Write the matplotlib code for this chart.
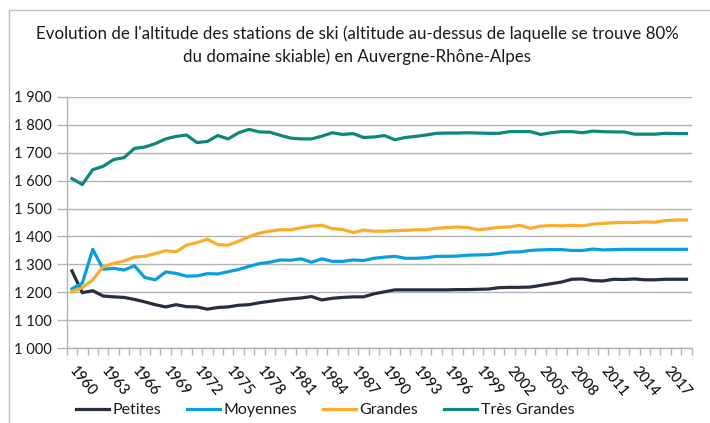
import matplotlib.pyplot as plt
from matplotlib.ticker import FixedLocator, FuncFormatter
from matplotlib.lines import Line2D
import matplotlib.transforms as mtransforms

# Altitude (m) au-dessus de laquelle se trouve 80% du domaine skiable
years = list(range(1960, 2020))

petites = [1277, 1199, 1206, 1187, 1184, 1182, 1175, 1166, 1156, 1148,
           1156, 1149, 1148, 1140, 1146, 1148, 1154, 1156, 1163, 1168,
           1173, 1177, 1180, 1185, 1173, 1179, 1182, 1184, 1184, 1195,
           1202, 1209, 1209, 1209, 1209, 1209, 1209, 1210, 1210, 1211,
           1212, 1217, 1218, 1218, 1219, 1225, 1231, 1237, 1247, 1248,
           1242, 1241, 1247, 1246, 1248, 1245, 1245, 1247, 1247, 1247]

moyennes = [1213, 1233, 1354, 1283, 1286, 1280, 1295, 1253, 1245, 1273,
            1268, 1258, 1259, 1267, 1266, 1274, 1282, 1293, 1303, 1308,
            1316, 1315, 1320, 1308, 1320, 1311, 1311, 1316, 1314, 1322,
            1326, 1329, 1322, 1322, 1324, 1329, 1329, 1330, 1333, 1334,
            1335, 1339, 1344, 1345, 1350, 1352, 1353, 1353, 1350, 1350,
            1355, 1352, 1353, 1354, 1354, 1354, 1354, 1354, 1354, 1354]

grandes = [1203, 1217, 1245, 1292, 1304, 1312, 1326, 1329, 1339, 1349,
           1345, 1369, 1378, 1390, 1371, 1369, 1383, 1399, 1412, 1419,
           1424, 1424, 1431, 1437, 1440, 1428, 1425, 1414, 1423, 1419,
           1419, 1421, 1422, 1424, 1424, 1429, 1432, 1434, 1432, 1424,
           1428, 1433, 1434, 1440, 1429, 1437, 1439, 1438, 1440, 1438,
           1444, 1447, 1449, 1450, 1450, 1452, 1451, 1457, 1459, 1459]

tres_grandes = [1607, 1586, 1639, 1651, 1675, 1682, 1715, 1720, 1732, 1749,
                1758, 1763, 1736, 1740, 1761, 1749, 1771, 1783, 1774, 1773,
                1762, 1752, 1749, 1749, 1759, 1771, 1765, 1768, 1754, 1756,
                1761, 1746, 1754, 1758, 1763, 1769, 1770, 1770, 1771, 1770,
                1769, 1769, 1775, 1775, 1775, 1765, 1771, 1775, 1775, 1771,
                1777, 1775, 1774, 1774, 1766, 1766, 1766, 1769, 1768, 1768]

series = [
    ('Petites', petites, '#262f3e'),
    ('Moyennes', moyennes, '#0a9fdc'),
    ('Grandes', grandes, '#f8ae2a'),
    ('Très Grandes', tres_grandes, '#0c877c'),
]

yticks = list(range(1000, 2000, 100))

plt.rcParams['font.family'] = ['Lato', 'DejaVu Sans']
plt.rcParams['text.color'] = '#1a1a1a'

W, H = 710, 423
fig = plt.figure(figsize=(W / 100, H / 100), dpi=100)
fig.patch.set_facecolor('white')

# axes placement in pixels
left, right, top, bottom = 66.7, 691.7, 96.7, 348.3
ax = fig.add_axes([left / W, 1 - bottom / H, (right - left) / W, (bottom - top) / H])

x = list(range(len(years)))
for name, vals, color in series:
    ax.plot(x, vals, color=color, lw=2.3, label=name, solid_joinstyle='round')

ax.set_xlim(-0.5, len(years) - 0.5)
ax.set_ylim(1000, 1900)

# y axis
ax.set_yticks(yticks)
ax.yaxis.set_major_formatter(FuncFormatter(lambda v, p: f'{int(v):,}'.replace(',', ' ')))
ax.grid(axis='y', color='#b3b3b3', lw=1.0)
ax.set_axisbelow(True)
ax.tick_params(axis='y', length=7, width=1, color='#b3b3b3', labelsize=10.5,
               labelcolor='#1a1a1a', pad=4)

# x axis: tick marks between categories, labels every 3 years
ax.xaxis.set_minor_locator(FixedLocator([i - 0.5 for i in range(len(years) + 1)]))
ax.tick_params(axis='x', which='minor', length=5, width=1, color='#b3b3b3')
lab_idx = [i for i, y in enumerate(years) if (y - 1960) % 3 == 0]
ax.set_xticks(lab_idx)
ax.set_xticklabels([str(years[i]) for i in lab_idx], rotation=-50,
                   ha='left', va='top', fontsize=10.5)
ax.tick_params(axis='x', which='major', length=0, pad=11)
shift = mtransforms.ScaledTranslation(-5 / 100, 0, fig.dpi_scale_trans)
for lab in ax.get_xticklabels():
    lab.set_transform(lab.get_transform() + shift)

for s in ['top', 'right']:
    ax.spines[s].set_visible(False)
for s in ['left', 'bottom']:
    ax.spines[s].set_color('#b3b3b3')
    ax.spines[s].set_linewidth(1)

# title
fig.text(357 / W, 1 - 45 / H,
         "Evolution de l'altitude des stations de ski (altitude au-dessus de laquelle se trouve 80%\n"
         "du domaine skiable) en Auvergne-Rhône-Alpes",
         ha='center', va='center', fontsize=12.2, linespacing=1.5)

# legend
handles = [Line2D([], [], color=c, lw=2.3) for _, _, c in series]
fig.legend(handles, [n for n, _, _ in series], loc='center', ncol=4,
           bbox_to_anchor=(325 / W, 1 - 410 / H), frameon=False,
           fontsize=11.5, handlelength=2.1, handletextpad=0.2, columnspacing=1.6)

# chart border
fig.add_artist(Line2D([9 / W, 9 / W], [0, 1 - 10 / H], color='#bfbfbf', lw=1,
                      transform=fig.transFigure))
fig.add_artist(Line2D([9 / W, 1], [1 - 10 / H, 1 - 10 / H], color='#bfbfbf', lw=1,
                      transform=fig.transFigure))

fig.savefig('out.png', dpi=100, facecolor='white')
